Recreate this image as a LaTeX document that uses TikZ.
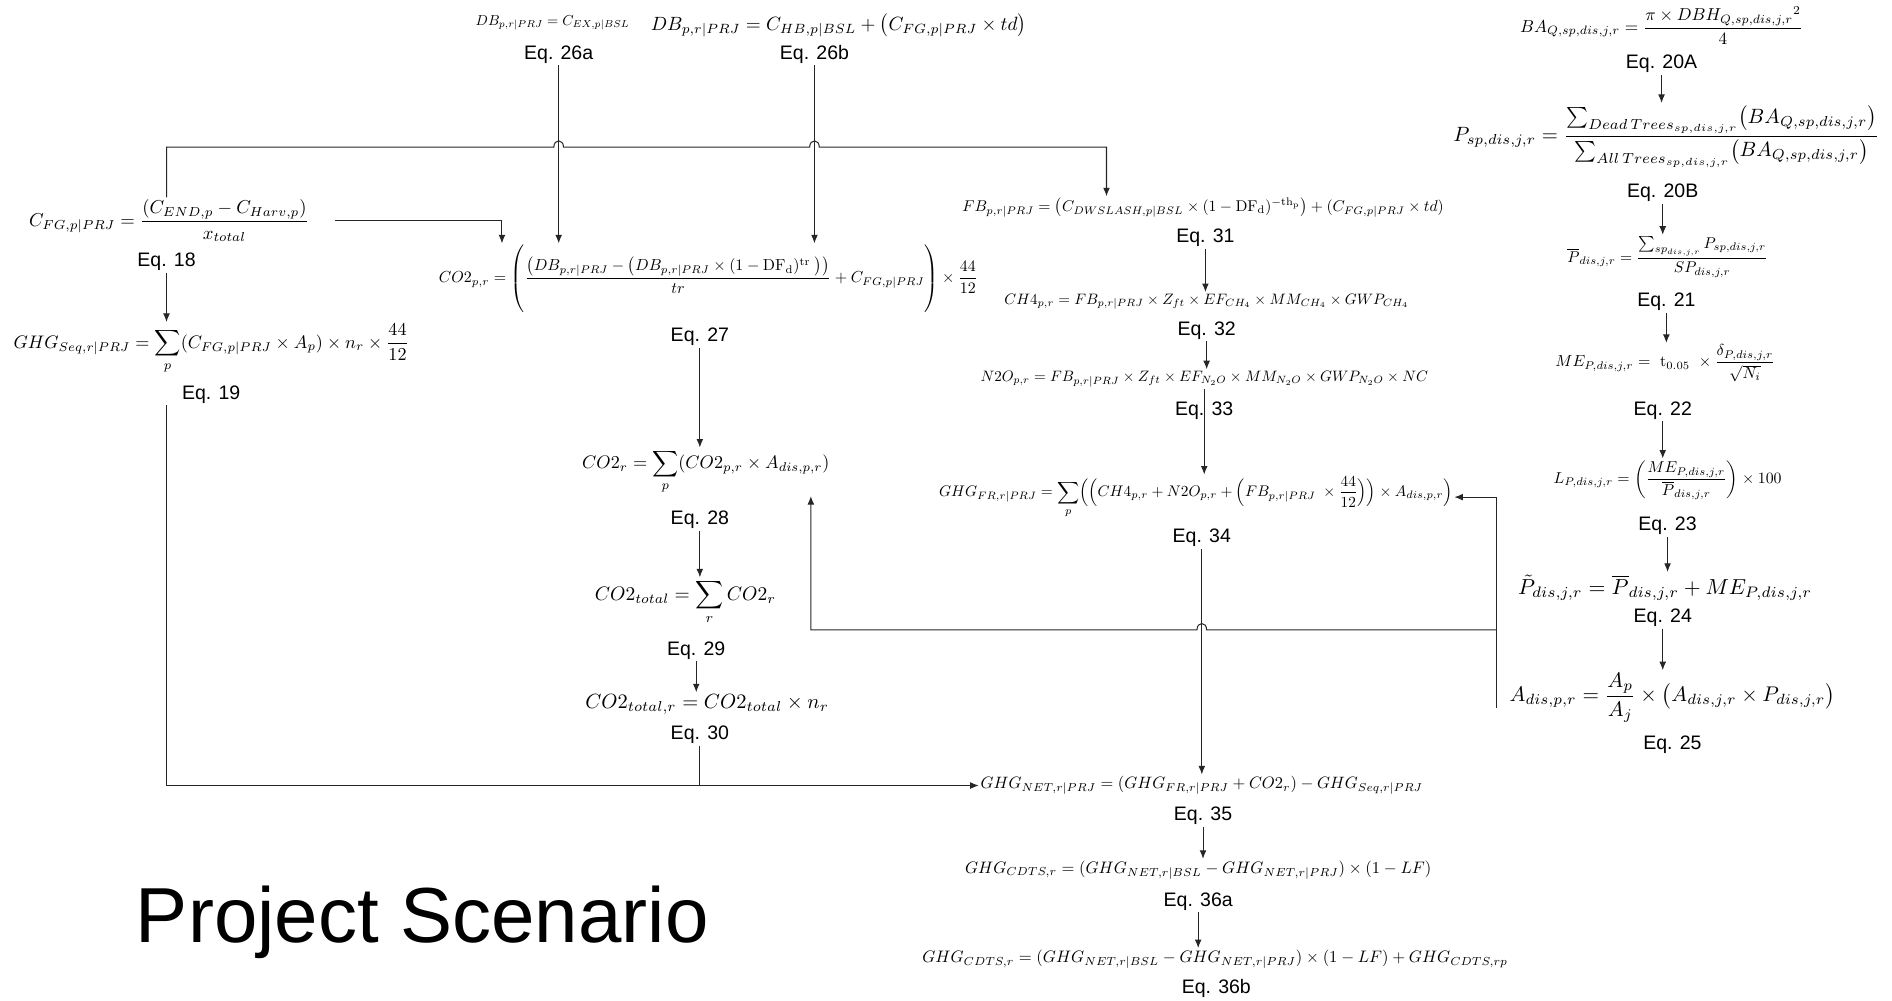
\documentclass[tikz,border=0pt]{standalone}
\usepackage{fontspec}
\usepackage{amsmath}
\usetikzlibrary{arrows.meta}
\newfontfamily\arialfont{Liberation Sans}

\begin{document}
\begin{tikzpicture}[
    x=0.025cm, y=-0.025cm,
    eqn/.style={inner sep=1pt, font=\fontsize{10}{12}\selectfont},
    lbl/.style={inner sep=1pt, font=\arialfont\fontsize{11.5}{13}\selectfont},
    heading/.style={inner sep=0pt, font=\arialfont\fontsize{46}{52}\selectfont},
    arr/.style={-{Latex[length=5pt,width=4pt]}, line width=0.6pt, black!85},
    wire/.style={line width=0.6pt, black!85}
]
  \useasboundingbox (0,0) rectangle (1568,829);

  \node[eqn, scale=0.85] (dba) at (458,19) {$DB_{p,r|PRJ} = C_{EX,p|BSL}$};
  \node[eqn, scale=1.13] (dbb) at (695,21) {$DB_{p,r|PRJ} = C_{HB,p|BSL} + \bigl(C_{FG,p|PRJ} \times td\bigr)$};
  \node[lbl] (e26a) at (463,45) {Eq. 26a};
  \node[lbl] (e26b) at (675,45) {Eq. 26b};

  \node[eqn, scale=1.1] (cfg) at (140,183) {$C_{FG,p|PRJ} = \dfrac{(C_{END,p} - C_{Harv,p})}{x_{total}}$};
  \node[lbl] (e18) at (138,217) {Eq. 18};
  \node[eqn, scale=1.07] (seq) at (175,289) {$GHG_{Seq,r|PRJ} = \displaystyle\sum_{p} (C_{FG,p|PRJ} \times A_p) \times n_r \times \frac{44}{12}$};
  \node[lbl] (e19) at (175,327) {Eq. 19};

  \node[eqn, scale=0.94] (co2pr) at (587,232) {$CO2_{p,r} = \left(\rule[-20pt]{0pt}{42pt}\dfrac{\bigl(DB_{p,r|PRJ} - \bigl(DB_{p,r|PRJ} \times (1 - \mathrm{DF}_{\mathrm{d}})^{\mathrm{tr}}\;\bigr)\bigr)}{tr} + C_{FG,p|PRJ}\right) \times \dfrac{44}{12}$};
  \node[lbl] (e27) at (580,279) {Eq. 27};
  \node[eqn, scale=1.07] (co2r) at (585,391) {$CO2_r = \displaystyle\sum_{p} (CO2_{p,r} \times A_{dis,p,r})$};
  \node[lbl] (e28) at (580,431) {Eq. 28};
  \node[eqn, scale=1.15] (co2tot) at (568,499) {$CO2_{total} = \displaystyle\sum_{r} CO2_r$};
  \node[lbl] (e29) at (577,539) {Eq. 29};
  \node[eqn, scale=1.21] (co2totr) at (586,584) {$CO2_{total,r} = CO2_{total} \times n_r$};
  \node[lbl] (e30) at (580,609) {Eq. 30};

  \node[eqn, scale=0.92] (fb) at (997,172) {$FB_{p,r|PRJ} = \bigl(C_{DWSLASH,p|BSL} \times (1 - \mathrm{DF}_{\mathrm{d}})^{-\mathrm{th}_{\mathrm{p}}}\bigr) + (C_{FG,p|PRJ} \times td)$};
  \node[lbl] (e31) at (999,197) {Eq. 31};
  \node[eqn, scale=0.89] (ch4) at (1000,250) {$CH4_{p,r} = FB_{p,r|PRJ} \times Z_{ft} \times EF_{CH_4} \times MM_{CH_4} \times GWP_{CH_4}$};
  \node[lbl] (e32) at (1000,274) {Eq. 32};
  \node[eqn, scale=0.89] (n2o) at (998,314) {$N2O_{p,r} = FB_{p,r|PRJ} \times Z_{ft} \times EF_{N_2O} \times MM_{N_2O} \times GWP_{N_2O} \times NC$};
  \node[lbl] (e33) at (998,340) {Eq. 33};
  \node[eqn, scale=0.905] (ghgfr) at (991,412) {$GHG_{FR,r|PRJ} = \displaystyle\sum_{p} \Bigl(\Bigl(CH4_{p,r} + N2O_{p,r} + \Bigl(FB_{p,r|PRJ}\; \times \frac{44}{12}\Bigr)\Bigr) \times A_{dis,p,r}\Bigr)$};
  \node[lbl] (e34) at (996,446) {Eq. 34};
  \node[eqn, scale=0.97] (ghgnet) at (996,651) {$GHG_{NET,r|PRJ} = (GHG_{FR,r|PRJ} + CO2_r) - GHG_{Seq,r|PRJ}$};
  \node[lbl] (e35) at (997,676) {Eq. 35};
  \node[eqn, scale=0.98] (cdtsa) at (993,721) {$GHG_{CDTS,r} = (GHG_{NET,r|BSL} - GHG_{NET,r|PRJ}) \times (1 - LF)$};
  \node[lbl] (e36a) at (993,747) {Eq. 36a};
  \node[eqn, scale=0.98] (cdtsb) at (1007,795) {$GHG_{CDTS,r} = (GHG_{NET,r|BSL} - GHG_{NET,r|PRJ}) \times (1 - LF) + GHG_{CDTS,rp}$};
  \node[lbl] (e36b) at (1008,819) {Eq. 36b};

  \node[eqn, scale=1.02] (ba) at (1377,21) {$BA_{Q,sp,dis,j,r} = \dfrac{\pi \times DBH_{Q,sp,dis,j,r}{}^{2}}{4}$};
  \node[lbl] (e20a) at (1377,53) {Eq. 20A};
  \node[eqn, scale=1.22] (psp) at (1381,113) {$P_{sp,dis,j,r} = \dfrac{\sum_{Dead\,Trees_{sp,dis,j,r}} \bigl(BA_{Q,sp,dis,j,r}\bigr)}{\sum_{All\,Trees_{sp,dis,j,r}} \bigl(BA_{Q,sp,dis,j,r}\bigr)}$};
  \node[lbl] (e20b) at (1378,160) {Eq. 20B};
  \node[eqn, scale=0.92] (pbar) at (1382,213) {$\overline{P}_{dis,j,r} = \dfrac{\sum_{sp_{dis,j,r}} P_{sp,dis,j,r}}{SP_{dis,j,r}}$};
  \node[lbl] (e21) at (1381,250) {Eq. 21};
  \node[eqn, scale=0.94] (me) at (1380,301) {$ME_{P,dis,j,r} = \ \mathrm{t}_{0.05} \ \times \dfrac{\delta_{P,dis,j,r}}{\sqrt{N_i}}$};
  \node[lbl] (e22) at (1378,340) {Eq. 22};
  \node[eqn, scale=0.93] (lp) at (1382,398) {$L_{P,dis,j,r} = \left(\dfrac{ME_{P,dis,j,r}}{\overline{P}_{dis,j,r}}\right) \times 100$};
  \node[lbl] (e23) at (1382,436) {Eq. 23};
  \node[eqn, scale=1.28] (ptil) at (1380,487) {$\tilde{P}_{dis,j,r} = \overline{P}_{dis,j,r} + ME_{P,dis,j,r}$};
  \node[lbl] (e24) at (1378,512) {Eq. 24};
  \node[eqn, scale=1.25] (adis) at (1386,578) {$A_{dis,p,r} = \dfrac{A_p}{A_j} \times \bigl(A_{dis,j,r} \times P_{dis,j,r}\bigr)$};
  \node[lbl] (e25) at (1386,617) {Eq. 25};

  \node[heading] (title) at (350,764) {Project Scenario};

  \draw[arr] (e26a.south) -- (e26a.south |- co2pr.north);
  \draw[arr] (e26b.south) -- (e26b.south |- co2pr.north);
  \draw[arr] (cfg.north -| e18.south) -- (138,122) -- (459,122) .. controls (459,115) and (467,115) .. (467,122)
      -- (671,122) .. controls (671,115) and (679,115) .. (679,122) -- (917,122) -- (917,0 |- fb.north);
  \draw[arr] ([xshift=14pt]cfg.east) -| (416,0 |- co2pr.north);
  \draw[arr] (e18.south) -- (e18.south |- seq.north);
  \draw[arr] (e19.south -| e18.south) |- (ghgnet.west);

  \draw[arr] (e27.south) -- (e27.south |- co2r.north);
  \draw[arr] (e28.south) -- (e28.south |- co2tot.north);
  \draw[arr] (e29.south) -- (e29.south |- co2totr.north);
  \draw[wire] (e30.south) -- (e30.south |- ghgnet.west);

  \draw[arr] (e31.south) -- (e31.south |- ch4.north);
  \draw[arr] (e32.south) -- (e32.south |- n2o.north);
  \draw[arr] (n2o.south) -- (n2o.south |- ghgfr.north);
  \draw[arr] (e34.south) -- (e34.south |- ghgnet.north);
  \draw[arr] (e35.south) -- (e35.south |- cdtsa.north);
  \draw[arr] (e36a.south) -- (e36a.south |- cdtsb.north);

  \draw[arr] (e20a.south) -- (e20a.south |- psp.north);
  \draw[arr] (e20b.south) -- (e20b.south |- pbar.north);
  \draw[arr] (e21.south) -- (e21.south |- me.north);
  \draw[arr] (e22.south) -- (e22.south |- lp.north);
  \draw[arr] (e23.south) -- (e23.south |- ptil.north);
  \draw[arr] (e24.south) -- (e24.south |- adis.north);

  \coordinate (fork) at (1240,522);
  \draw[arr] ([yshift=-6pt]1240,0 |- adis.west) |- (ghgfr.east);
  \draw[arr] (fork) -- (1000,522) .. controls (1000,515) and (992,515) .. (992,522) -- (672,522) -- (672,0 |- co2r.south);
\end{tikzpicture}
\end{document}
